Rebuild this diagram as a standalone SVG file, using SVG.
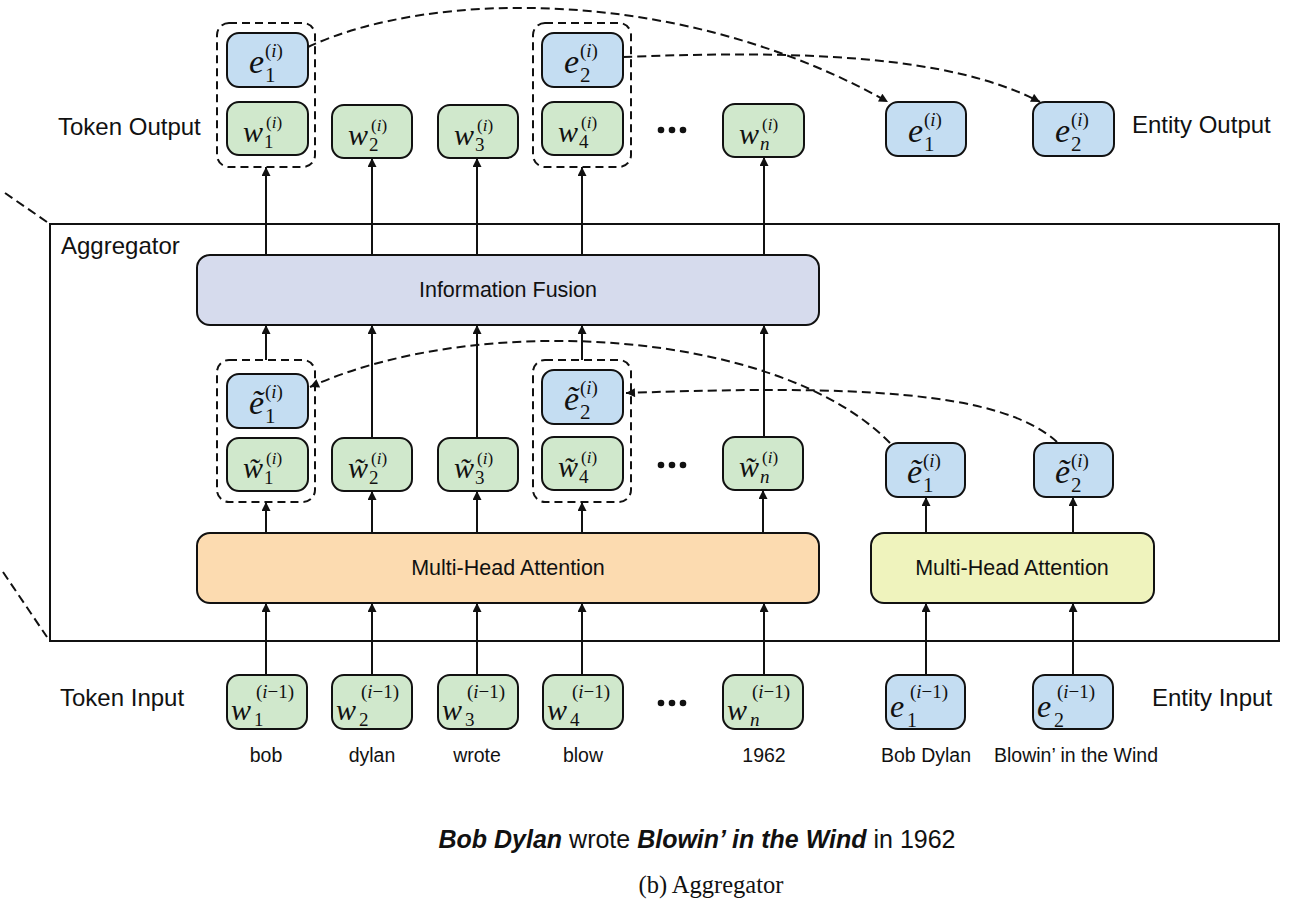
<svg xmlns="http://www.w3.org/2000/svg" width="1293" height="910" viewBox="0 0 1293 910">
<style>
.nd{stroke:#111;stroke-width:2}
.b{fill:#c4ddf2}
.g{fill:#d0e8cc}
.grp{fill:none;stroke:#111;stroke-width:2;stroke-dasharray:8 5}
.ln{fill:none;stroke:#111;stroke-width:2}
.dl{fill:none;stroke:#111;stroke-width:2;stroke-dasharray:9 5}
.m{font-family:"Liberation Serif",serif;font-style:italic;fill:#111}
.r{font-family:"Liberation Serif",serif;fill:#111}
.s{font-family:"Liberation Sans",Arial,sans-serif;fill:#111}
.dot{fill:#111}
</style>
<defs>
<marker id="ah" viewBox="0 0 10 10" refX="10" refY="5" markerWidth="10" markerHeight="9" markerUnits="userSpaceOnUse" orient="auto"><path d="M0,0 L10,5 L0,10 z" fill="#111"/></marker>
</defs>

<!-- aggregator frame -->
<g id="aggregator">
<rect x="50" y="224" width="1229" height="417" fill="none" stroke="#111" stroke-width="2"/>
<line x1="5" y1="193" x2="47" y2="222" class="dl"/>
<line x1="3" y1="572" x2="47" y2="637" class="dl"/>
<text x="61" y="254" class="s" font-size="24">Aggregator</text>
</g>

<g id="labels">
<text x="58" y="135" class="s" font-size="24">Token Output</text>
<text x="1132" y="133" class="s" font-size="24">Entity Output</text>
<text x="60" y="706" class="s" font-size="24">Token Input</text>
<text x="1152" y="706" class="s" font-size="24">Entity Input</text>
<g font-size="19.5" text-anchor="middle">
<text x="266" y="762" class="s">bob</text>
<text x="372" y="762" class="s">dylan</text>
<text x="477" y="762" class="s">wrote</text>
<text x="583" y="762" class="s">blow</text>
<text x="764" y="762" class="s">1962</text>
<text x="926" y="762" class="s">Bob Dylan</text>
<text x="1076" y="762" class="s">Blowin’ in the Wind</text>
</g>
<text x="697" y="848" class="s" font-size="25" text-anchor="middle"><tspan font-weight="bold" font-style="italic">Bob Dylan</tspan> wrote <tspan font-weight="bold" font-style="italic">Blowin’ in the Wind</tspan> in 1962</text>
<text x="711" y="893" class="r" font-size="24.5" text-anchor="middle">(b) Aggregator</text>
</g>

<!-- dots -->
<g id="ellipsis">
<circle cx="661" cy="130" r="3.3" class="dot"/><circle cx="672" cy="130" r="3.3" class="dot"/><circle cx="683" cy="130" r="3.3" class="dot"/>
<circle cx="661" cy="465" r="3.3" class="dot"/><circle cx="672" cy="465" r="3.3" class="dot"/><circle cx="683" cy="465" r="3.3" class="dot"/>
<circle cx="661" cy="703" r="3.3" class="dot"/><circle cx="672" cy="703" r="3.3" class="dot"/><circle cx="683" cy="703" r="3.3" class="dot"/>
</g>

<!-- big blocks -->
<g id="fusion">
<rect x="197" y="255" width="622" height="70" rx="13" fill="#d6dbed" class="nd"/>
<text x="508" y="297" class="s" font-size="21.5" text-anchor="middle">Information Fusion</text>
</g>
<g id="mha-token">
<rect x="197" y="533" width="622" height="70" rx="13" fill="#fcdbb0" class="nd"/>
<text x="508" y="575" class="s" font-size="21.5" text-anchor="middle">Multi-Head Attention</text>
</g>
<g id="mha-entity">
<rect x="871" y="533" width="283" height="70" rx="13" fill="#eff3bd" class="nd"/>
<text x="1012" y="575" class="s" font-size="21.5" text-anchor="middle">Multi-Head Attention</text>
</g>

<!-- dashed groups -->
<g id="groups">
<rect x="217" y="23" width="98" height="144" rx="12" class="grp"/>
<rect x="533" y="23" width="98" height="144" rx="12" class="grp"/>
<rect x="217" y="360" width="98" height="142" rx="12" class="grp"/>
<rect x="533" y="360" width="98" height="142" rx="12" class="grp"/>
</g>

<!-- connectors -->
<g id="connectors">
<g class="ln" marker-end="url(#ah)">
<line x1="266" y1="255" x2="266" y2="167"/>
<line x1="372" y1="255" x2="372" y2="158"/>
<line x1="477" y1="255" x2="477" y2="158"/>
<line x1="582" y1="255" x2="582" y2="167"/>
<line x1="764" y1="255" x2="764" y2="157"/>
<line x1="266" y1="360" x2="266" y2="325"/>
<line x1="372" y1="438" x2="372" y2="325"/>
<line x1="477" y1="438" x2="477" y2="325"/>
<line x1="582" y1="360" x2="582" y2="325"/>
<line x1="764" y1="437" x2="764" y2="325"/>
<line x1="266" y1="533" x2="266" y2="502"/>
<line x1="372" y1="533" x2="372" y2="491"/>
<line x1="477" y1="533" x2="477" y2="491"/>
<line x1="582" y1="533" x2="582" y2="502"/>
<line x1="763" y1="533" x2="763" y2="490"/>
<line x1="926" y1="533" x2="926" y2="497"/>
<line x1="1073" y1="533" x2="1073" y2="497"/>
<line x1="266" y1="675" x2="266" y2="603"/>
<line x1="372" y1="675" x2="372" y2="603"/>
<line x1="477" y1="675" x2="477" y2="603"/>
<line x1="582" y1="675" x2="582" y2="603"/>
<line x1="764" y1="675" x2="764" y2="603"/>
<line x1="926" y1="675" x2="926" y2="603"/>
<line x1="1073" y1="675" x2="1073" y2="603"/>
</g>
<g class="dl" marker-end="url(#ah)">
<path d="M308,47 C430,-10 680,-15 888,102"/>
<path d="M623,57 C800,50 950,55 1040,102"/>
<path d="M890,443 C780,330 480,310 310,387"/>
<path d="M1057,442 C1000,390 850,385 626,393"/>
</g>
</g>

<!-- ===== top row ===== -->
<g id="e1-out-group">
<rect x="227" y="33" width="81" height="54" rx="12" class="nd b"/>
<text x="249" y="73" class="m" font-size="34">e</text>
<text x="265" y="82" class="r" font-size="21">1</text>
<text x="265" y="57" class="r" font-size="19">(<tspan font-style="italic">i</tspan>)</text>
</g>
<g id="w1-out">
<rect x="227" y="102" width="81" height="53" rx="12" class="nd g"/>
<text x="243" y="142" class="m" font-size="30">w</text>
<text x="264" y="148" class="r" font-size="19">1</text>
<text x="266" y="128" class="r" font-size="17">(<tspan font-style="italic">i</tspan>)</text>
</g>
<g id="w2-out">
<rect x="332" y="105" width="80" height="53" rx="12" class="nd g"/>
<text x="348" y="145" class="m" font-size="30">w</text>
<text x="369" y="151" class="r" font-size="19">2</text>
<text x="371" y="131" class="r" font-size="17">(<tspan font-style="italic">i</tspan>)</text>
</g>
<g id="w3-out">
<rect x="438" y="105" width="80" height="53" rx="12" class="nd g"/>
<text x="454" y="145" class="m" font-size="30">w</text>
<text x="475" y="151" class="r" font-size="19">3</text>
<text x="477" y="131" class="r" font-size="17">(<tspan font-style="italic">i</tspan>)</text>
</g>
<g id="e2-out-group">
<rect x="542" y="33" width="81" height="54" rx="12" class="nd b"/>
<text x="564" y="73" class="m" font-size="34">e</text>
<text x="580" y="82" class="r" font-size="21">2</text>
<text x="580" y="57" class="r" font-size="19">(<tspan font-style="italic">i</tspan>)</text>
</g>
<g id="w4-out">
<rect x="542" y="102" width="81" height="53" rx="12" class="nd g"/>
<text x="558" y="142" class="m" font-size="30">w</text>
<text x="579" y="148" class="r" font-size="19">4</text>
<text x="581" y="128" class="r" font-size="17">(<tspan font-style="italic">i</tspan>)</text>
</g>
<g id="wn-out">
<rect x="723" y="104" width="81" height="53" rx="12" class="nd g"/>
<text x="739" y="144" class="m" font-size="30">w</text>
<text x="760" y="150" class="m" font-size="19">n</text>
<text x="762" y="130" class="r" font-size="17">(<tspan font-style="italic">i</tspan>)</text>
</g>
<g id="e1-entity-out">
<rect x="886" y="102" width="80" height="54" rx="12" class="nd b"/>
<text x="908" y="142" class="m" font-size="34">e</text>
<text x="924" y="151" class="r" font-size="21">1</text>
<text x="924" y="126" class="r" font-size="19">(<tspan font-style="italic">i</tspan>)</text>
</g>
<g id="e2-entity-out">
<rect x="1033" y="102" width="81" height="54" rx="12" class="nd b"/>
<text x="1055" y="142" class="m" font-size="34">e</text>
<text x="1071" y="151" class="r" font-size="21">2</text>
<text x="1071" y="126" class="r" font-size="19">(<tspan font-style="italic">i</tspan>)</text>
</g>

<!-- ===== middle row ===== -->
<g id="et1">
<rect x="227" y="374" width="81" height="54" rx="12" class="nd b"/>
<text x="249" y="414" class="m" font-size="34">ẽ</text>
<text x="265" y="423" class="r" font-size="21">1</text>
<text x="265" y="398" class="r" font-size="19">(<tspan font-style="italic">i</tspan>)</text>
</g>
<g id="wt1">
<rect x="227" y="438" width="81" height="53" rx="12" class="nd g"/>
<text x="243" y="478" class="m" font-size="30">w̃</text>
<text x="264" y="484" class="r" font-size="19">1</text>
<text x="266" y="464" class="r" font-size="17">(<tspan font-style="italic">i</tspan>)</text>
</g>
<g id="wt2">
<rect x="332" y="438" width="80" height="53" rx="12" class="nd g"/>
<text x="348" y="478" class="m" font-size="30">w̃</text>
<text x="369" y="484" class="r" font-size="19">2</text>
<text x="371" y="464" class="r" font-size="17">(<tspan font-style="italic">i</tspan>)</text>
</g>
<g id="wt3">
<rect x="438" y="438" width="80" height="53" rx="12" class="nd g"/>
<text x="454" y="478" class="m" font-size="30">w̃</text>
<text x="475" y="484" class="r" font-size="19">3</text>
<text x="477" y="464" class="r" font-size="17">(<tspan font-style="italic">i</tspan>)</text>
</g>
<g id="et2-group">
<rect x="542" y="370" width="81" height="54" rx="12" class="nd b"/>
<text x="564" y="410" class="m" font-size="34">ẽ</text>
<text x="580" y="419" class="r" font-size="21">2</text>
<text x="580" y="394" class="r" font-size="19">(<tspan font-style="italic">i</tspan>)</text>
</g>
<g id="wt4">
<rect x="542" y="437" width="81" height="53" rx="12" class="nd g"/>
<text x="558" y="477" class="m" font-size="30">w̃</text>
<text x="579" y="483" class="r" font-size="19">4</text>
<text x="581" y="463" class="r" font-size="17">(<tspan font-style="italic">i</tspan>)</text>
</g>
<g id="wtn">
<rect x="723" y="437" width="80" height="53" rx="12" class="nd g"/>
<text x="739" y="477" class="m" font-size="30">w̃</text>
<text x="760" y="483" class="m" font-size="19">n</text>
<text x="762" y="463" class="r" font-size="17">(<tspan font-style="italic">i</tspan>)</text>
</g>
<g id="ete1">
<rect x="886" y="443" width="79" height="54" rx="12" class="nd b"/>
<text x="907" y="483" class="m" font-size="34">ẽ</text>
<text x="923" y="492" class="r" font-size="21">1</text>
<text x="923" y="467" class="r" font-size="19">(<tspan font-style="italic">i</tspan>)</text>
</g>
<g id="ete2">
<rect x="1034" y="443" width="79" height="54" rx="12" class="nd b"/>
<text x="1055" y="483" class="m" font-size="34">ẽ</text>
<text x="1071" y="492" class="r" font-size="21">2</text>
<text x="1071" y="467" class="r" font-size="19">(<tspan font-style="italic">i</tspan>)</text>
</g>

<!-- ===== input row ===== -->
<g id="wi1">
<rect x="227" y="675" width="80" height="54" rx="12" class="nd g"/>
<text x="231" y="720" class="m" font-size="30">w</text>
<text x="254" y="726" class="r" font-size="19">1</text>
<text x="256" y="698" class="r" font-size="19">(<tspan font-style="italic">i</tspan>−1)</text>
</g>
<g id="wi2">
<rect x="332" y="675" width="80" height="54" rx="12" class="nd g"/>
<text x="336" y="720" class="m" font-size="30">w</text>
<text x="359" y="726" class="r" font-size="19">2</text>
<text x="361" y="698" class="r" font-size="19">(<tspan font-style="italic">i</tspan>−1)</text>
</g>
<g id="wi3">
<rect x="438" y="675" width="80" height="54" rx="12" class="nd g"/>
<text x="442" y="720" class="m" font-size="30">w</text>
<text x="465" y="726" class="r" font-size="19">3</text>
<text x="467" y="698" class="r" font-size="19">(<tspan font-style="italic">i</tspan>−1)</text>
</g>
<g id="wi4">
<rect x="543" y="675" width="80" height="54" rx="12" class="nd g"/>
<text x="547" y="720" class="m" font-size="30">w</text>
<text x="570" y="726" class="r" font-size="19">4</text>
<text x="572" y="698" class="r" font-size="19">(<tspan font-style="italic">i</tspan>−1)</text>
</g>
<g id="win">
<rect x="723" y="675" width="80" height="54" rx="12" class="nd g"/>
<text x="727" y="720" class="m" font-size="30">w</text>
<text x="750" y="726" class="m" font-size="19">n</text>
<text x="752" y="698" class="r" font-size="19">(<tspan font-style="italic">i</tspan>−1)</text>
</g>
<g id="ei1">
<rect x="886" y="675" width="79" height="54" rx="12" class="nd b"/>
<text x="890" y="717" class="m" font-size="32">e</text>
<text x="907" y="727" class="r" font-size="20">1</text>
<text x="910" y="698" class="r" font-size="19">(<tspan font-style="italic">i</tspan>−1)</text>
</g>
<g id="ei2">
<rect x="1033" y="675" width="80" height="54" rx="12" class="nd b"/>
<text x="1037" y="717" class="m" font-size="32">e</text>
<text x="1054" y="727" class="r" font-size="20">2</text>
<text x="1057" y="698" class="r" font-size="19">(<tspan font-style="italic">i</tspan>−1)</text>
</g>
</svg>
